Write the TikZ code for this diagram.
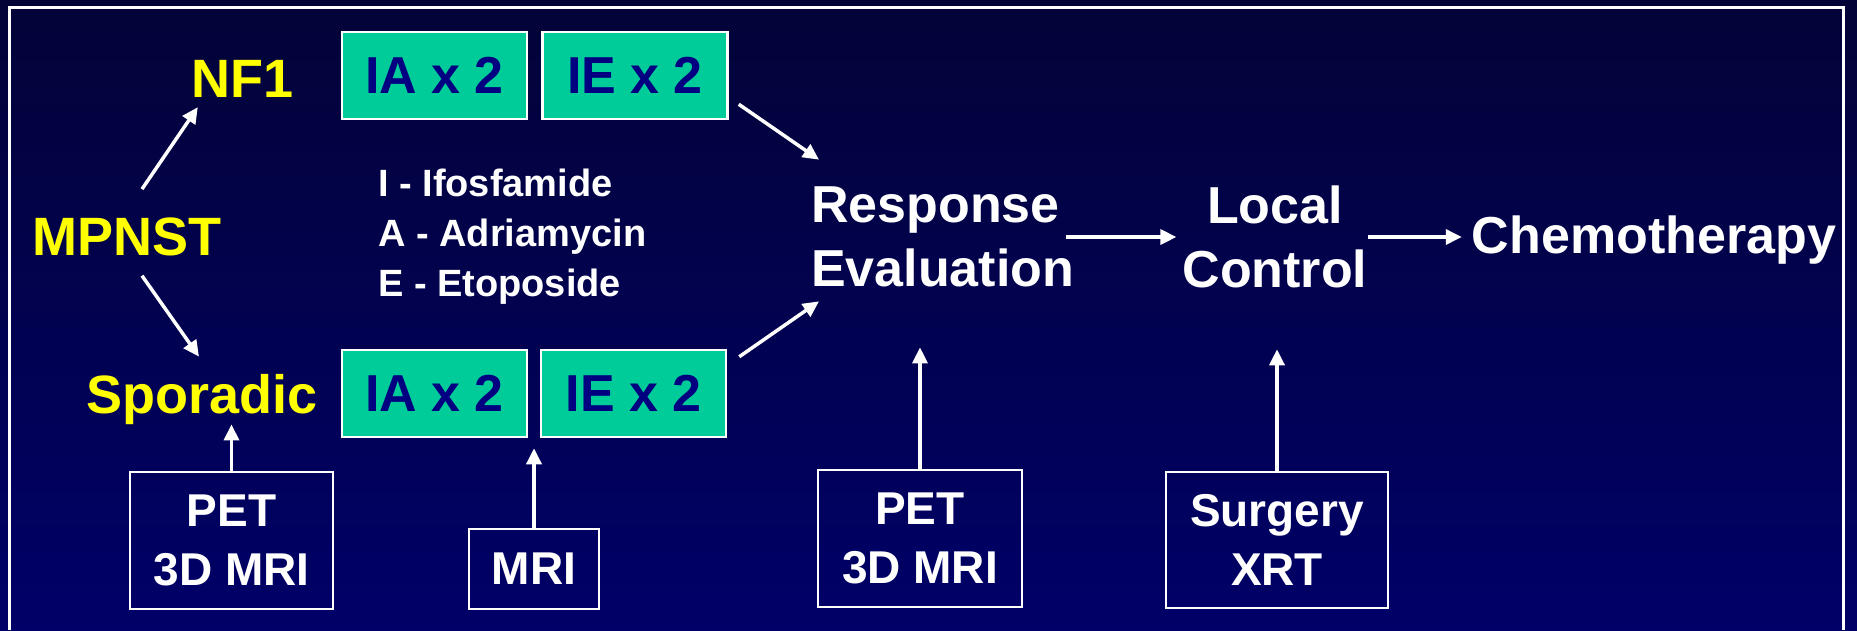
\documentclass[tikz,border=0pt]{standalone}
\usepackage{fontspec}
\setmainfont{Liberation Sans}
\usetikzlibrary{arrows.meta}
\tikzset{>={Triangle[length=16pt,width=15pt]}}
\definecolor{slidetop}{RGB}{3,3,56}
\definecolor{slidebot}{RGB}{0,0,104}
\definecolor{drugfill}{RGB}{0,204,153}
\definecolor{drugtext}{RGB}{0,0,128}
\definecolor{grpyellow}{RGB}{255,255,0}
\tikzset{
	% yellow group labels
	grp/.style={text=grpyellow,font=\bfseries\fontsize{54}{60}\selectfont,inner sep=0pt},
	% chemo cycles
	drugbox/.style={draw=white,line width=2.5pt,fill=drugfill,text=drugtext,
		font=\bfseries\fontsize{52}{56}\selectfont,
		minimum width=185pt,minimum height=87pt,inner sep=0pt},
	% imaging and local control boxes
	imgbox/.style={draw=white,line width=2.5pt,text=white,align=center,
		font=\bfseries\fontsize{46}{59}\selectfont,inner sep=0pt},
	% right hand pathway
	stagetext/.style={text=white,font=\bfseries\fontsize{52}{64}\selectfont,inner sep=0pt},
	legtext/.style={text=white,font=\bfseries\fontsize{38}{50}\selectfont,inner sep=0pt,anchor=base west},
	arr/.style={->,white,line width=3.5pt},
}

\begin{document}
\begin{tikzpicture}[x=1pt,y=-1pt]
\shade[top color=slidetop,bottom color=slidebot] (0,0) rectangle (1857,630);
\useasboundingbox (0,0) rectangle (1857,630);
% frame
\draw[white,line width=3pt] (9,630) -- (9,7) -- (1843,7) -- (1843,630);
% diagnosis
\node[grp,anchor=base] (mpnst) at (127,255) {MPNST};
\node[grp,anchor=base] (nf1) at (243,97) {NF1};
\node[grp,anchor=base] (spor) at (202,413) {Sporadic};
% cycles
\node[drugbox] (ia1) at (434.5,75.5) {IA x 2};
\node[drugbox] (ie1) at (635,75.5) {IE x 2};
\node[drugbox] (ia2) at (434.5,393.5) {IA x 2};
\node[drugbox] (ie2) at (633.5,393.5) {IE x 2};
% legend
\foreach \t [count=\i] in {I - Ifosfamide,A - Adriamycin,E - Etoposide}
  \node[legtext] (leg\i) at (378,146+50*\i) {\t};
% pathway
\node[stagetext,align=left,anchor=west] (resp) at (811,237) {Response\\Evaluation};
\node[stagetext,align=center] (local) at (1275,237) {Local\\Control};
\node[stagetext,anchor=base] (chemo) at (1654,253) {Chemotherapy};
% imaging
\node[imgbox,minimum width=203pt,minimum height=137pt] (pet1) at (231.5,540.5) {PET\\3D MRI};
\node[imgbox,minimum width=130pt,minimum height=80pt] (mri) at (534,569) {MRI};
\node[imgbox,minimum width=204pt,minimum height=137pt] (pet2) at (920,538.5) {PET\\3D MRI};
\node[imgbox,minimum width=222pt,minimum height=136pt] (surg) at (1277,540) {Surgery\\XRT};
% arrows
\draw[arr] ([xshift=15pt,yshift=28pt]mpnst.north) -- ([xshift=6pt,yshift=-10pt]nf1.south west);
\draw[arr] ([xshift=15pt,yshift=-20pt]mpnst.south) -- ([xshift=-3pt,yshift=17pt]spor.north);
\draw[arr] ([xshift=10pt,yshift=16pt]ie1.south east) -- ([xshift=8pt,yshift=27pt]resp.north west);
\draw[arr] ([xshift=12pt,yshift=-8pt]ie2.north east) -- ([xshift=8pt,yshift=-14pt]resp.south west);
\draw[arr,shorten <=-8pt,shorten >=6pt] (resp.east) -- (resp.east -| local.west);
\draw[arr,shorten >=10pt] (local.east) -- (local.east -| chemo.west);
\draw[arr] (pet1.north) -- (pet1.north |- spor.south);
\draw[arr] (mri.north) -- ([yshift=-10pt]mri.north |- ia2.south);
\draw[arr] (pet2.north) -- ([yshift=-60pt]pet2.north |- resp.south);
\draw[arr] (surg.north) -- ([yshift=-61pt]surg.north |- local.south);
\end{tikzpicture}
\end{document}
